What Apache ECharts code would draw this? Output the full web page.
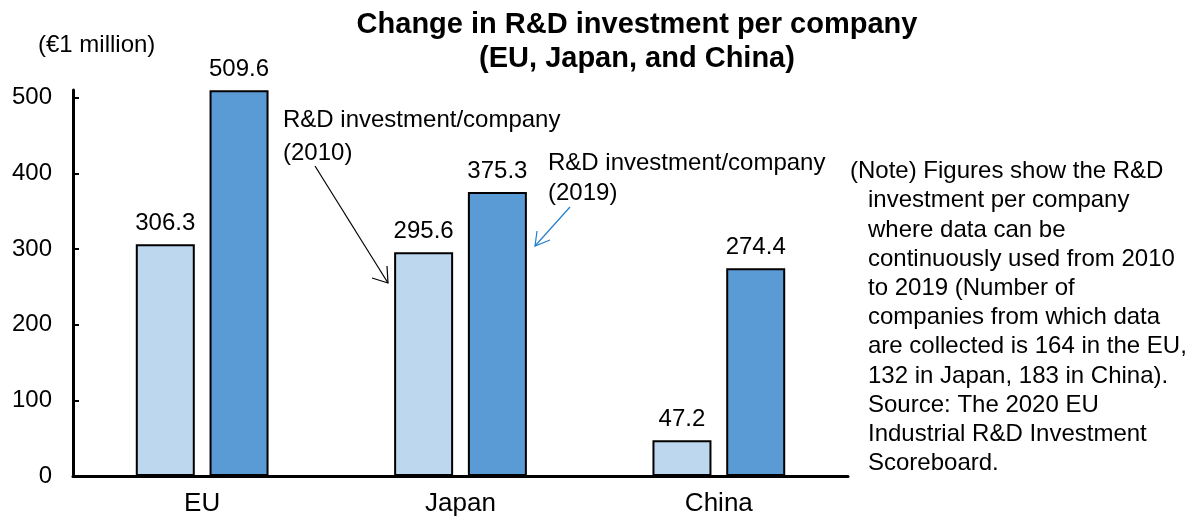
<!DOCTYPE html>
<html><head><meta charset="utf-8">
<script src="https://cdn.jsdelivr.net/npm/echarts@6/dist/echarts.min.js"></script>
<style>html,body{margin:0;padding:0;background:#fff}#c{width:1189px;height:519px}</style>
</head><body><div id="c"></div>
<script>
const categories = ['EU', 'Japan', 'China'];
const values2010 = [306.3, 295.6, 47.2];
const values2019 = [509.6, 375.3, 274.4];
const yTicks = [0, 100, 200, 300, 400, 500];
const seriesNames = ['R&D investment/company\n(2010)', 'R&D investment/company\n(2019)'];
const noteFirst = '(Note) Figures show the R&D';
const noteRest = 'investment per company\nwhere data can be\ncontinuously used from 2010\nto 2019 (Number of\ncompanies from which data\nare collected is 164 in the EU,\n132 in Japan, 183 in China).\nSource: The 2020 EU\nIndustrial R&D Investment\nScoreboard.';

const F = 'Arial, "Liberation Sans", sans-serif';
const chart = echarts.init(document.getElementById('c'));
const lbl = { show: true, position: 'top', color: '#000', fontSize: 24, fontFamily: F, distance: 9, formatter: p => p.value.toFixed(1) };
chart.setOption({
  animation: false,
  title: {
    text: 'Change in R&D investment per company\n(EU, Japan, and China)',
    left: 632, top: 3, textAlign: 'center',
    textStyle: { fontFamily: F, fontSize: 29, fontWeight: 'bold', color: '#000', lineHeight: 34 }
  },
  grid: { left: 73, right: 341, top: 90, bottom: 43 },
  xAxis: {
    type: 'category', data: categories,
    axisLine: { lineStyle: { color: '#000', width: 3 } },
    axisTick: { show: false },
    axisLabel: { color: '#000', fontSize: 26, fontFamily: F, margin: 15 }
  },
  yAxis: {
    type: 'value', min: 0, max: 510,
    axisLine: { show: true, lineStyle: { color: '#000', width: 3 } },
    axisTick: { show: true, inside: true, length: 6, lineStyle: { color: '#000', width: 2 }, customValues: yTicks },
    axisLabel: { color: '#000', fontSize: 24, fontFamily: F, margin: 21, customValues: yTicks },
    splitLine: { show: false }
  },
  series: [
    { name: seriesNames[0], type: 'bar', data: values2010, barWidth: 59, barGap: '25%',
      itemStyle: { color: '#BDD7EE', borderColor: '#000', borderWidth: 2 }, label: lbl },
    { name: seriesNames[1], type: 'bar', data: values2019, barWidth: 59,
      itemStyle: { color: '#5B9BD5', borderColor: '#000', borderWidth: 2 }, label: lbl }
  ],
  graphic: [
    { type: 'text', left: 38, top: 33, style: { text: '(€1 million)', font: '24px ' + F, fill: '#000' } },
    { type: 'text', left: 283, top: 104, style: { text: seriesNames[0], font: '24px ' + F, fill: '#000', lineHeight: 33 } },
    { type: 'text', left: 548, top: 148, style: { text: seriesNames[1], font: '24px ' + F, fill: '#000', lineHeight: 30 } },
    { type: 'line', shape: { x1: 315, y1: 166, x2: 388, y2: 283 }, style: { stroke: '#000', lineWidth: 1.2 } },
    { type: 'polyline', shape: { points: [[372, 278], [388, 283], [387, 266]] }, style: { stroke: '#000', lineWidth: 1.2, fill: null } },
    { type: 'line', shape: { x1: 570, y1: 207, x2: 535, y2: 246 }, style: { stroke: '#1F7FD0', lineWidth: 1.2 } },
    { type: 'polyline', shape: { points: [[537, 231], [535, 246], [550, 240]] }, style: { stroke: '#1F7FD0', lineWidth: 1.2, fill: null } },
    { type: 'text', left: 850, top: 157, style: { text: noteFirst, font: '24px ' + F, fill: '#000', lineHeight: 29.2 } },
    { type: 'text', left: 868, top: 186.2, style: { text: noteRest, font: '24px ' + F, fill: '#000', lineHeight: 29.2 } }
  ]
});
</script></body></html>
